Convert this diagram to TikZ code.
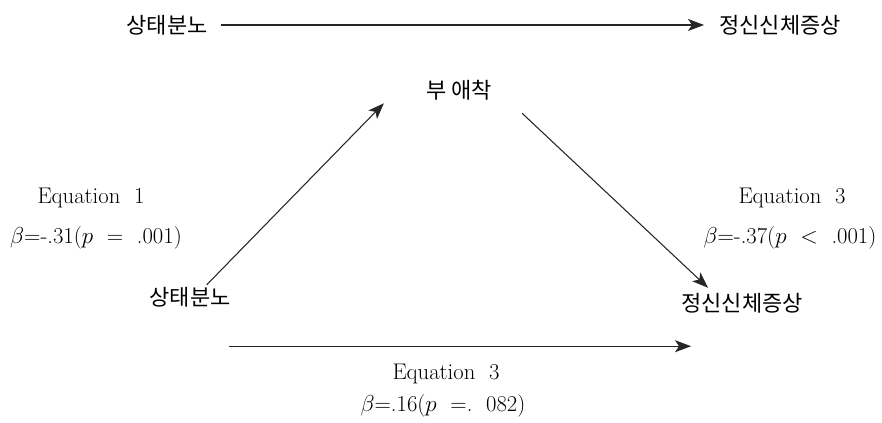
\documentclass[tikz,border=0pt]{standalone}
\usepackage{fontspec}
\newfontfamily\kor{Noto Sans CJK KR}
\usepackage{tikz}
\usetikzlibrary{arrows.meta, positioning}
\tikzset{
  var/.style   = {inner sep=0pt, font=\kor\fontsize{16.5}{20}\selectfont},
  eqn/.style   = {inner sep=0pt, font=\fontsize{17}{20}\selectfont},
  arrow/.style = {-{Stealth[length=12pt, width=9pt, inset=3pt]},
                  line width=0.8pt, color=black!85},
}

\begin{document}
\begin{tikzpicture}[x=0.75pt, y=-0.75pt]
\useasboundingbox (0,0) rectangle (882,423);

% Total effect
\node[var] (angerT) at (167,25)  {상태분노};
\node[var] (somaT)  at (780,25)  {정신신체증상};
\draw[arrow] ([shift={(13,0)}]angerT.east) -- ([shift={(-15,0)}]somaT.west);

% Mediation triangle
\node[var] (attach) at (459,90)  {부 애착};
\node[var] (anger)  at (190,297) {상태분노};
\node[var] (soma)   at (742,303) {정신신체증상};

\draw[arrow] ([shift={(-24,-2)}]anger.north east) -- ([shift={(-42,3)}]attach.south west);
\draw[arrow] ([shift={(30,13)}]attach.south east) -- ([shift={(27,-5)}]soma.north west);
\draw[arrow] ([shift={(-2,39)}]anger.south east) -- ([shift={(10,33)}]soma.south west);

% Coefficients
\node[eqn] (eq1)  at (91,198)  {Equation\ \ 1};
\node[eqn] (b1)   at (96,238)  {$\beta$=-.31($p$\ \ =\ \ .001)};
\node[eqn] (eq3r) at (792,198) {Equation\ \ 3};
\node[eqn] (b3r)  at (790,238) {$\beta$=-.37($p$\ \ $<$\ \ .001)};
\node[eqn] (eq3b) at (446,374) {Equation\ \ 3};
\node[eqn] (b3b)  at (443,406) {$\beta$=.16($p$\ \ =.\ \ 082)};

\end{tikzpicture}
\end{document}
